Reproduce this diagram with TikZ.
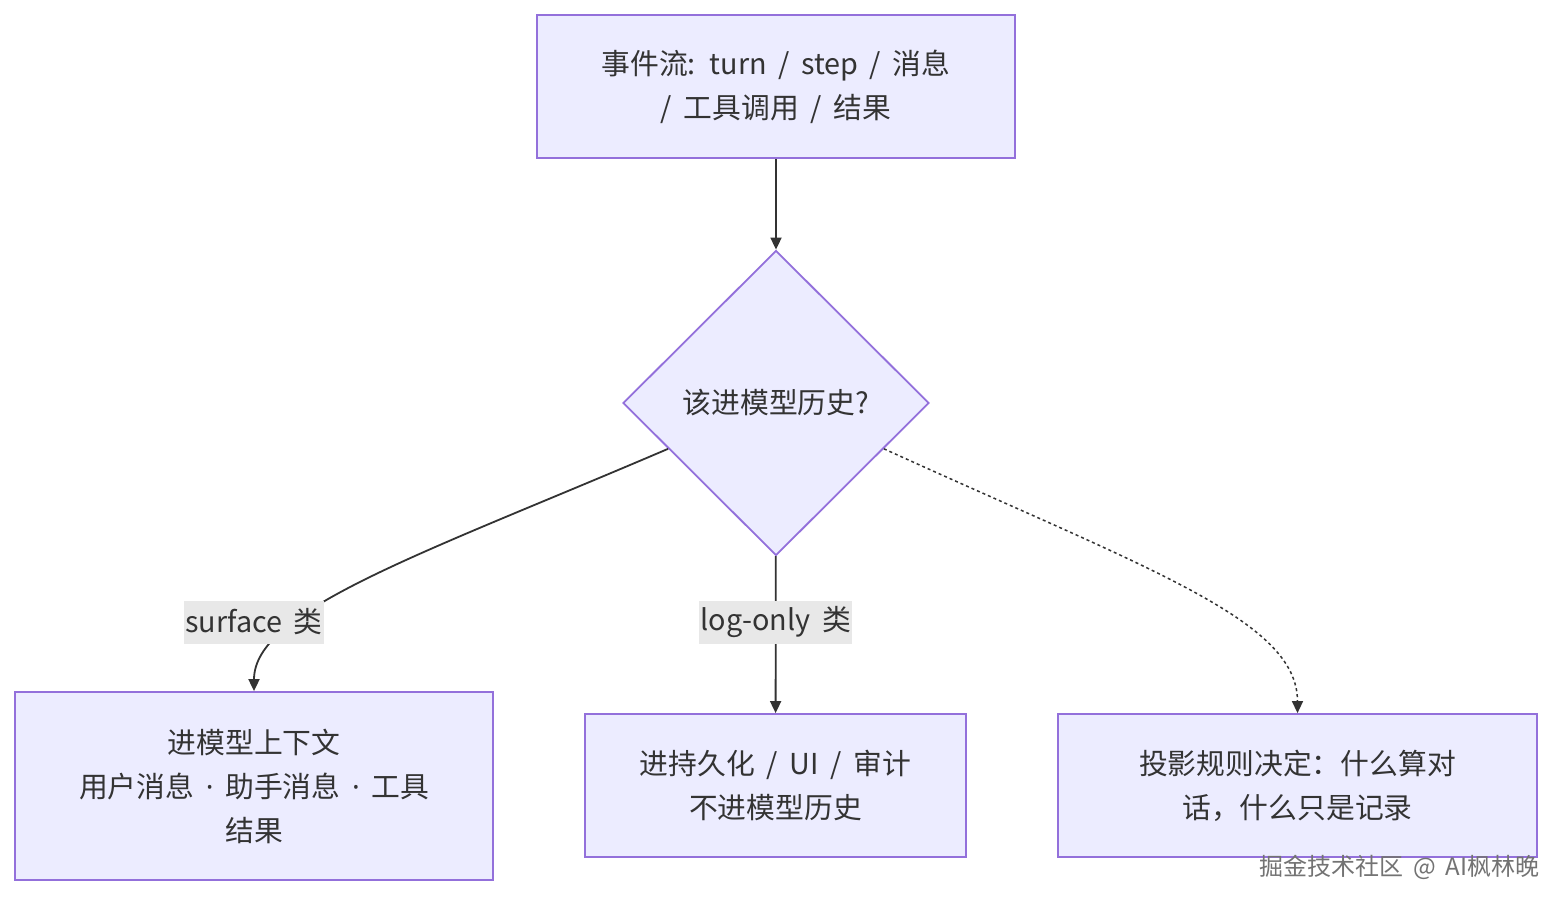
\documentclass[tikz,border=0pt]{standalone}
\usepackage{fontspec}
\setmainfont[WordSpace=1.8]{Noto Sans CJK SC}
\newfontfamily\dotfont{Noto Sans}
\usetikzlibrary{shapes.geometric,arrows.meta,positioning}
\definecolor{boxfill}{HTML}{ECECFF}
\definecolor{boxline}{HTML}{9370DB}
\definecolor{ink}{HTML}{333333}
\definecolor{labelbg}{HTML}{E8E8E8}
\newcommand{\middot}{{\dotfont ·}}

\begin{document}
\begin{tikzpicture}[x=1pt,y=-1pt,
  font=\fontsize{28.8}{44}\selectfont, text=ink,
  >={Triangle[length=12pt,width=11pt]},
  box/.style={draw=boxline,fill=boxfill,line width=1.8pt,align=center,inner sep=0pt},
  decision/.style={diamond,draw=boxline,fill=boxfill,line width=1.8pt,inner sep=0pt,
    minimum width=306pt,minimum height=305pt},
  flow/.style={draw=ink,line width=1.8pt},
  edgelabel/.style={fill=labelbg,inner xsep=1pt,inner ysep=0pt,minimum height=43pt}]
  \fill[white] (0,0) rectangle (1568,906);
  \useasboundingbox (0,0) rectangle (1568,906);

  % event stream and the question
  \node[box,minimum width=478pt,minimum height=143pt] (events) at (776,86.5)
    {事件流: turn / step / 消息\\/ 工具调用 / 结果};
  \node[decision] (decide) at (776,403) {该进模型历史?};

  % the three outcomes
  \node[box,minimum width=478pt,minimum height=188pt] (surface) at (254,786)
    {进模型上下文\\用户消息 \middot{} 助手消息 \middot{} 工具\\结果};
  \node[box,minimum width=381pt,minimum height=143pt] (logonly) at (775.5,785.5)
    {进持久化 / UI / 审计\\不进模型历史};
  \node[box,minimum width=479pt,minimum height=143pt] (projection) at (1297.5,785.5)
    {投影规则决定：什么算对\\话，什么只是记录};

  % connectors
  \draw[flow,->] (events) -- (decide);
  \draw[flow,->] (decide.-157) .. controls (420,555) and (254,610) .. (surface.north);
  \draw[flow,->] (decide) -- (logonly) node[edgelabel,pos=0.42] (loglbl) {log-only 类};
  \draw[flow,->,line width=1.5pt,dash pattern=on 3pt off 3pt]
    (decide.-23) .. controls (1150,570) and (1297.5,620) .. (projection.north);
  \node[edgelabel] (surfacelbl) at (254,622) {surface 类};

  % watermark
  \node[anchor=east,text=black!55,font=\fontsize{24}{24}\selectfont] (watermark) at (1543,867)
    {掘金技术社区 @ AI枫林晚};
\end{tikzpicture}
\end{document}
